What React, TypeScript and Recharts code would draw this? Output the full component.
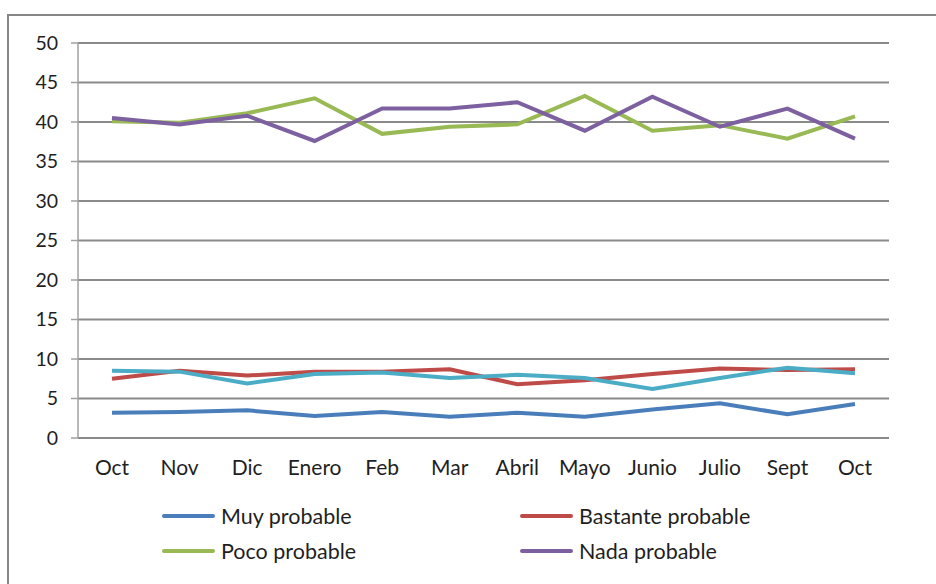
import React from 'react';
import { LineChart, Line, XAxis, YAxis, CartesianGrid } from 'recharts';

const months = ['Oct', 'Nov', 'Dic', 'Enero', 'Feb', 'Mar', 'Abril', 'Mayo', 'Junio', 'Julio', 'Sept', 'Oct'];
const muyProbable = [3.2, 3.3, 3.5, 2.8, 3.3, 2.7, 3.2, 2.7, 3.6, 4.4, 3.0, 4.3];
const bastanteProbable = [7.5, 8.5, 7.9, 8.4, 8.4, 8.7, 6.8, 7.3, 8.1, 8.8, 8.6, 8.7];
const pocoProbable = [40.1, 39.9, 41.1, 43.0, 38.5, 39.4, 39.7, 43.3, 38.9, 39.6, 37.9, 40.7];
const nadaProbable = [40.5, 39.7, 40.8, 37.6, 41.7, 41.7, 42.5, 38.9, 43.2, 39.4, 41.7, 37.9];
const nsNc = [8.5, 8.4, 6.9, 8.1, 8.3, 7.6, 8.0, 7.6, 6.2, 7.6, 8.9, 8.2];
const yTicks = [0, 5, 10, 15, 20, 25, 30, 35, 40, 45, 50];
const boundaryTicks = [0, 1, 2, 3, 4, 5, 6, 7, 8, 9, 10, 11, 12];

const data = months.map((m, i) => ({
  idx: i,
  month: m,
  muy: muyProbable[i],
  bastante: bastanteProbable[i],
  poco: pocoProbable[i],
  nada: nadaProbable[i],
  ns: nsNc[i],
}));

const FONT = 'Lato, "Noto Sans", sans-serif';
const TEXT = '#1f1f1f';

const legendItems = [
  { name: 'Muy probable', color: '#4A7EBB', left: 162, top: 516 },
  { name: 'Bastante probable', color: '#BE4B48', left: 520, top: 516 },
  { name: 'Poco probable', color: '#98B954', left: 162, top: 551 },
  { name: 'Nada probable', color: '#7D60A0', left: 520, top: 551 },
];

export default function App() {
  return (
    <div style={{ position: 'absolute', left: 0, top: 0, width: 936, height: 584, overflow: 'hidden', background: '#fff', fontFamily: FONT }}>
      <div style={{ position: 'absolute', left: 7, top: 14, width: 960, height: 620, borderLeft: '2px solid #868686', borderTop: '2px solid #868686', boxSizing: 'border-box' }} />
      <div style={{ position: 'absolute', left: 0, top: 0 }}>
        <LineChart width={936} height={584} data={data} margin={{ top: 43, right: 47, left: 0, bottom: 106 }}>
          <CartesianGrid horizontal vertical={false} stroke="#8a8a8a" strokeWidth={2} />
          <XAxis
            xAxisId="t"
            type="number"
            dataKey="idx"
            domain={[-0.5, 11.5]}
            ticks={boundaryTicks.map((t) => t - 0.5)}
            allowDataOverflow
            height={0}
            tick={false}
            tickSize={8}
            axisLine={{ stroke: '#a0a0a0', strokeWidth: 1.5 }}
            tickLine={{ stroke: '#a0a0a0', strokeWidth: 1.5 }}
          />
          <XAxis
            xAxisId="c"
            dataKey="month"
            height={40}
            padding={{ left: 34, right: 34 }}
            axisLine={false}
            tickLine={false}
            tickSize={0}
            tickMargin={22}
            interval={0}
            tick={{ fill: TEXT, fontSize: 21, fontFamily: FONT }}
          />
          <YAxis
            width={78}
            domain={[0, 50]}
            ticks={yTicks}
            interval={0}
            tickSize={7}
            tickMargin={13}
            axisLine={{ stroke: '#a0a0a0', strokeWidth: 1.5 }}
            tickLine={{ stroke: '#a0a0a0', strokeWidth: 1.5 }}
            tick={{ fill: TEXT, fontSize: 19.5, fontFamily: FONT }}
          />
          <Line xAxisId="c" type="linear" dataKey="muy" name="Muy probable" stroke="#4A7EBB" strokeWidth={4} dot={false} isAnimationActive={false} />
          <Line xAxisId="c" type="linear" dataKey="bastante" name="Bastante probable" stroke="#BE4B48" strokeWidth={4} dot={false} isAnimationActive={false} />
          <Line xAxisId="c" type="linear" dataKey="poco" name="Poco probable" stroke="#98B954" strokeWidth={4} dot={false} isAnimationActive={false} />
          <Line xAxisId="c" type="linear" dataKey="nada" name="Nada probable" stroke="#7D60A0" strokeWidth={4} dot={false} isAnimationActive={false} />
          <Line xAxisId="c" type="linear" dataKey="ns" name="Ns/Nc" stroke="#4BACC6" strokeWidth={4} dot={false} legendType="none" isAnimationActive={false} />
        </LineChart>
      </div>
      {legendItems.map((it) => (
        <div key={it.name} style={{ position: 'absolute', left: it.left, top: it.top - 13, height: 26, display: 'flex', alignItems: 'center' }}>
          <div style={{ width: 53, height: 4, borderRadius: 2, background: it.color }} />
          <span style={{ marginLeft: 6, fontSize: 21.5, color: TEXT, fontFamily: FONT, whiteSpace: 'nowrap' }}>{it.name}</span>
        </div>
      ))}
    </div>
  );
}
